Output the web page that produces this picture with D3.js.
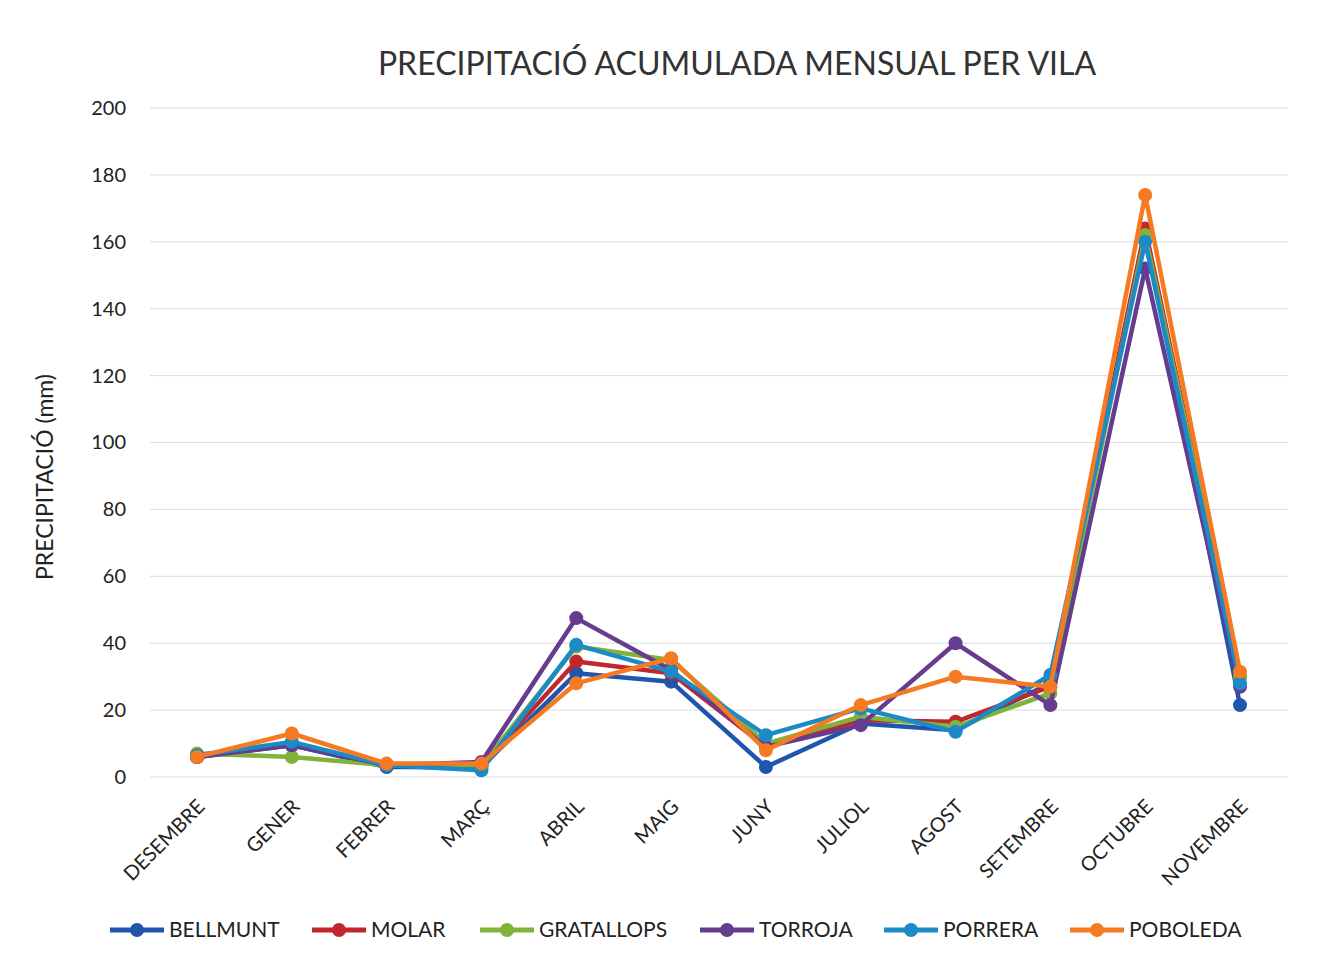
<!DOCTYPE html>
<html lang="ca">
<head>
<meta charset="UTF-8">
<title>Precipitació acumulada mensual per vila</title>
<script src="https://d3js.org/d3.v7.min.js"></script>
<style>
    body { margin: 0; background: #fff; font-family: Lato, "Open Sans", sans-serif; }
    .grid line { stroke: #dcdcdc; stroke-width: 1; }
</style>
</head>
<body>
<script>
    const months = ["DESEMBRE", "GENER", "FEBRER", "MARÇ", "ABRIL", "MAIG", "JUNY",
                    "JULIOL", "AGOST", "SETEMBRE", "OCTUBRE", "NOVEMBRE"];
    const yTicks = [0, 20, 40, 60, 80, 100, 120, 140, 160, 180, 200];

    const bellmunt   = [6, 9.5, 3, 3, 31, 28.5, 3, 16, 14, 28, 163, 21.5];
    const molar      = [6, 10, 3.5, 3.5, 34.5, 31, 9, 17, 16.5, 27, 164, 30];
    const gratallops = [7, 6, 3.5, 3.5, 39, 35, 10, 18, 15, 25, 162, 30];
    const torroja    = [6, 9.5, 3.5, 4.5, 47.5, 32, 9, 15.5, 40, 21.5, 152, 27];
    const porrera    = [6.5, 10.5, 3.5, 2, 39.5, 31.5, 12.5, 20.5, 13.5, 30.5, 160, 28];
    const poboleda   = [6, 13, 4, 4, 28, 35.5, 8, 21.5, 30, 27, 174, 31.5];

    const seriesNames = ["BELLMUNT", "MOLAR", "GRATALLOPS", "TORROJA", "PORRERA", "POBOLEDA"];
    const seriesValues = [bellmunt, molar, gratallops, torroja, porrera, poboleda];
    const seriesColors = ["#1f55ad", "#c0282e", "#80b23c", "#663c8e", "#1b8ac6", "#f57a22"];

    const W = 1326, H = 962;
    const plotLeft = 150, plotRight = 1288, plotTop = 108, plotBottom = 777;

    const svg = d3.select("body").append("svg")
        .attr("width", W).attr("height", H);

    const x = d3.scalePoint().domain(months).range([197, 1240]);
    const y = d3.scaleLinear().domain([0, 200]).range([plotBottom, plotTop]);

    // gridlines
    svg.append("g").attr("class", "grid")
        .selectAll("line").data(yTicks).enter().append("line")
        .attr("x1", plotLeft).attr("x2", plotRight)
        .attr("y1", d => y(d)).attr("y2", d => y(d));

    // y axis labels
    const yAxis = svg.append("g")
        .attr("transform", `translate(${126},0)`)
        .call(d3.axisLeft(y).tickValues(yTicks).tickSize(0).tickPadding(0));
    yAxis.select(".domain").remove();
    yAxis.selectAll("text")
        .attr("font-family", "Lato, sans-serif")
        .attr("font-size", 20).attr("fill", "#222");

    // x axis labels (rotated)
    svg.append("g").selectAll("text").data(months).enter().append("text")
        .attr("transform", d => `translate(${x(d) + 4},${803}) rotate(-45)`)
        .attr("text-anchor", "end")
        .attr("dy", "0.35em")
        .attr("font-size", 20).attr("fill", "#222")
        .text(d => d);

    // title
    svg.append("text")
        .attr("x", 737).attr("y", 75)
        .attr("text-anchor", "middle")
        .attr("font-size", 32).attr("fill", "#333")
        .text("PRECIPITACIÓ ACUMULADA MENSUAL PER VILA");

    // y title
    svg.append("text")
        .attr("transform", `translate(${53},${477}) rotate(-90)`)
        .attr("text-anchor", "middle")
        .attr("font-size", 23).attr("fill", "#222")
        .text("PRECIPITACIÓ (mm)");

    const line = d3.line()
        .x((d, i) => x(months[i]))
        .y(d => y(d));

    seriesValues.forEach((vals, k) => {
        const g = svg.append("g");
        g.append("path")
            .datum(vals)
            .attr("d", line)
            .attr("fill", "none")
            .attr("stroke", seriesColors[k])
            .attr("stroke-width", 4.5)
            .attr("stroke-linejoin", "round");
        g.selectAll("circle").data(vals).enter().append("circle")
            .attr("cx", (d, i) => x(months[i]))
            .attr("cy", d => y(d))
            .attr("r", 7)
            .attr("fill", seriesColors[k]);
    });

    // legend
    const legendX = [110, 312, 480, 700, 884, 1070];
    const legend = svg.append("g");
    seriesNames.forEach((name, k) => {
        const lg = legend.append("g").attr("transform", `translate(${legendX[k]},${930})`);
        lg.append("line")
            .attr("x1", 0).attr("x2", 54)
            .attr("stroke", seriesColors[k]).attr("stroke-width", 5);
        lg.append("circle").attr("cx", 27).attr("r", 7).attr("fill", seriesColors[k]);
        lg.append("text")
            .attr("x", 59).attr("dy", "0.35em")
            .attr("font-size", 21).attr("fill", "#222")
            .text(name);
    });
</script>
</body>
</html>
